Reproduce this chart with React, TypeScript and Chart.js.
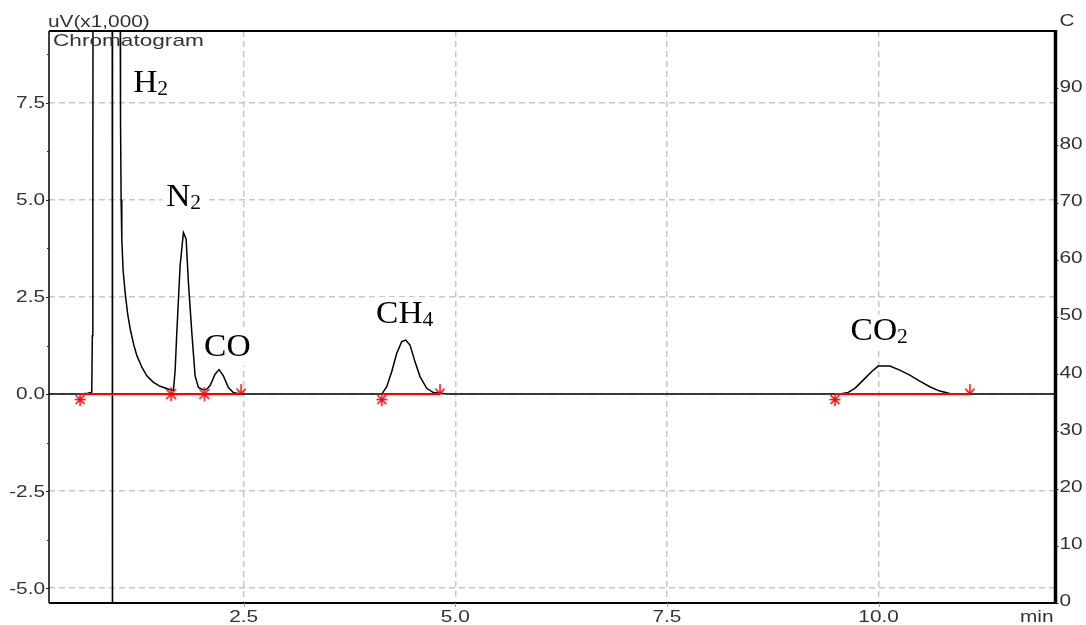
import React, { useEffect, useRef } from 'react';
import { Chart, registerables } from 'chart.js';

Chart.register(...registerables);

// ---- axis ranges & ticks ----
const xMin = 0.2;
const xMax = 12.09;
const yMin = -5.38;
const yMax = 9.35;
const y2Min = 0;
const y2Max = 100;

const xTicks = [2.5, 5.0, 7.5, 10.0];
const xTickLabels = ['2.5', '5.0', '7.5', '10.0'];
const yTicks = [7.5, 5.0, 2.5, 0.0, -2.5, -5.0];
const yTickLabels = ['7.5', '5.0', '2.5', '0.0', '-2.5', '-5.0'];
const yMinorTicks = [8.75, 6.25, 3.75, 1.25, -1.25, -3.75];
const y2Ticks = [0, 10, 20, 30, 40, 50, 60, 70, 80, 90];
const y2TickLabels = ['0', '10', '20', '30', '40', '50', '60', '70', '80', '90'];

// ---- chromatogram signal (min, uV x1000) ----
const signalTime = [
  0.2, 0.57, 0.66, 0.705, 0.712, 0.718, 0.725,
  0.945, 0.949, 0.952,
  1.035, 1.04, 1.045, 1.052, 1.06, 1.075, 1.099, 1.13, 1.16, 1.2, 1.238, 1.3, 1.356, 1.43, 1.513, 1.632, 1.67,
  1.69, 1.71, 1.749, 1.788, 1.82, 1.847, 1.887, 1.926, 1.965, 2.024,
  2.06, 2.103, 2.162, 2.209, 2.26, 2.319, 2.378, 2.457,
  4.131, 4.19, 4.249, 4.308, 4.367, 4.414, 4.465, 4.524, 4.583, 4.662, 4.74, 4.819, 4.9,
  9.543, 9.641, 9.72, 9.818, 9.917, 9.995, 10.133, 10.251, 10.369, 10.487, 10.605, 10.723, 10.841, 10.94, 11.0,
  12.09,
];
const signalValue = [
  0, 0, 0.02, 0.05, 1.5, 6, 20,
  20, -12, 20,
  20, 11, 7, 5.0, 4.0, 3.2, 2.62, 2.05, 1.67, 1.28, 0.99, 0.68, 0.47, 0.31, 0.2, 0.11, 0.1,
  0.6, 1.59, 3.31, 4.16, 3.99, 2.87, 1.59, 0.47, 0.17, 0.11,
  0.12, 0.22, 0.51, 0.63, 0.47, 0.17, 0.04, 0,
  0, 0.19, 0.58, 1.05, 1.35, 1.39, 1.26, 0.83, 0.45, 0.15, 0.04, 0.02, 0,
  0, 0.044, 0.147, 0.36, 0.576, 0.721, 0.721, 0.618, 0.489, 0.335, 0.19, 0.077, 0.018, 0.01, 0,
  0,
];

// ---- integration baselines ----
const markTime = [0.568, 1.643, 2.036, 2.469, 4.131, 4.819, 9.484, 11.078];
const markKind = ['start', 'mid', 'mid', 'end', 'start', 'end', 'start', 'end'];
const markGroup = [0, 0, 0, 0, 1, 1, 2, 2];

// ---- peak labels ----
const peakNames = ['H', 'N', 'CO', 'CH', 'CO'];
const peakSubs = ['2', '2', '', '4', '2'];
const peakLabelTime = [1.194, 1.584, 2.032, 4.064, 9.669];
const peakLabelValue = [7.78, 4.84, 0.99, 1.83, 1.39];

const SANS = '"Liberation Sans", Arial, sans-serif';
const SERIF = '"Liberation Serif", "Times New Roman", serif';
const SANS_SX = 1.3;
const SERIF_SX = 1.08;

function drawScaled(ctx: CanvasRenderingContext2D, text: string, x: number, y: number, align: CanvasTextAlign, sx: number) {
  ctx.save();
  ctx.translate(x, y);
  ctx.scale(sx, 1);
  ctx.textAlign = align;
  ctx.fillText(text, 0, 0);
  ctx.restore();
}

function makeMarker(kind: string): HTMLCanvasElement {
  const c = document.createElement('canvas');
  c.width = 18;
  c.height = 28;
  const g = c.getContext('2d')!;
  g.strokeStyle = '#ff0000';
  g.lineWidth = 1.5;
  const line = (a: number, b: number, cc: number, d: number) => {
    g.beginPath();
    g.moveTo(a, b);
    g.lineTo(cc, d);
    g.stroke();
  };
  // the data point sits at (9,14)
  if (kind === 'mid') {
    line(9, 7, 9, 21);
    line(2, 14, 16, 14);
    line(4, 9, 14, 19);
    line(14, 9, 4, 19);
  } else if (kind === 'start') {
    line(9, 13, 9, 26);
    line(4.5, 15, 13.5, 24);
    line(13.5, 15, 4.5, 24);
    line(3.5, 19.5, 14.5, 19.5);
  } else {
    line(9, 4, 9, 14);
    line(4.5, 8.5, 9, 14);
    line(13.5, 8.5, 9, 14);
  }
  return c;
}

const decorPlugin = {
  id: 'decor',
  beforeDatasetsDraw(chart: any) {
    const { ctx, scales } = chart;
    const x = scales.x;
    const y = scales.y;
    ctx.save();
    ctx.textBaseline = 'alphabetic';
    peakNames.forEach((name, i) => {
      const px = x.getPixelForValue(peakLabelTime[i]);
      const py = y.getPixelForValue(peakLabelValue[i]);
      ctx.font = `31px ${SERIF}`;
      const w1 = ctx.measureText(name).width * SERIF_SX;
      ctx.font = `20px ${SERIF}`;
      const w2 = peakSubs[i] ? ctx.measureText(peakSubs[i]).width * SERIF_SX : 0;
      ctx.fillStyle = '#ffffff';
      ctx.fillRect(px - 4, py - 26, w1 + w2 + 8, 36);
      ctx.fillStyle = '#000000';
      ctx.font = `31px ${SERIF}`;
      drawScaled(ctx, name, px, py, 'left', SERIF_SX);
      if (peakSubs[i]) {
        ctx.font = `20px ${SERIF}`;
        drawScaled(ctx, peakSubs[i], px + w1, py + 3, 'left', SERIF_SX);
      }
    });
    ctx.restore();
  },
  afterDatasetsDraw(chart: any) {
    const { ctx, chartArea, scales } = chart;
    const x = scales.x;
    const y = scales.y;
    const y2 = scales.y2;
    const { left, right, top, bottom } = chartArea;
    ctx.save();
    ctx.strokeStyle = '#000000';
    // frame
    ctx.lineWidth = 2;
    ctx.beginPath();
    ctx.moveTo(left, top);
    ctx.lineTo(right, top);
    ctx.stroke();
    ctx.beginPath();
    ctx.moveTo(left, bottom);
    ctx.lineTo(right, bottom);
    ctx.stroke();
    ctx.lineWidth = 1.5;
    ctx.beginPath();
    ctx.moveTo(left, top);
    ctx.lineTo(left, bottom);
    ctx.stroke();
    ctx.lineWidth = 3.5;
    ctx.beginPath();
    ctx.moveTo(right, top - 1);
    ctx.lineTo(right, bottom + 1);
    ctx.stroke();

    // tick marks
    ctx.lineWidth = 1;
    ctx.strokeStyle = '#222';
    yTicks.forEach((v) => {
      const py = Math.round(y.getPixelForValue(v)) + 0.5;
      ctx.beginPath();
      ctx.moveTo(left - 3, py);
      ctx.lineTo(left, py);
      ctx.stroke();
    });
    yMinorTicks.forEach((v) => {
      const py = Math.round(y.getPixelForValue(v)) + 0.5;
      ctx.beginPath();
      ctx.moveTo(left - 2, py);
      ctx.lineTo(left, py);
      ctx.stroke();
    });
    y2Ticks.forEach((v) => {
      const py = Math.round(y2.getPixelForValue(v)) + 0.5;
      ctx.beginPath();
      ctx.moveTo(right, py);
      ctx.lineTo(right + 3, py);
      ctx.stroke();
    });
    ctx.strokeStyle = '#999';
    xTicks.forEach((v) => {
      const px = Math.round(x.getPixelForValue(v)) + 0.5;
      ctx.beginPath();
      ctx.moveTo(px, bottom);
      ctx.lineTo(px, bottom + 4);
      ctx.stroke();
    });

    // tick labels
    ctx.fillStyle = '#333333';
    ctx.font = `16px ${SANS}`;
    ctx.textBaseline = 'middle';
    yTicks.forEach((v, i) => {
      drawScaled(ctx, yTickLabels[i], left - 4, y.getPixelForValue(v) + 1, 'right', SANS_SX);
    });
    y2Ticks.forEach((v, i) => {
      drawScaled(ctx, y2TickLabels[i], right + 4, y2.getPixelForValue(v) - 1, 'left', SANS_SX);
    });
    xTicks.forEach((v, i) => {
      drawScaled(ctx, xTickLabels[i], x.getPixelForValue(v), bottom + 15, 'center', SANS_SX);
    });
    drawScaled(ctx, 'min', right - 2, bottom + 15, 'right', SANS_SX);
    drawScaled(ctx, 'C', right + 4, top - 9, 'left', SANS_SX);
    ctx.textBaseline = 'alphabetic';
    drawScaled(ctx, 'uV(x1,000)', left - 1, top - 4, 'left', SANS_SX);
    ctx.font = `17px ${SANS}`;
    drawScaled(ctx, 'Chromatogram', left + 4, top + 15, 'left', 1.33);
    ctx.restore();
  },
};

export default function App() {
  const canvasRef = useRef<HTMLCanvasElement | null>(null);

  useEffect(() => {
    const canvas = canvasRef.current;
    if (!canvas) return;

    const markers: Record<string, HTMLCanvasElement> = {
      start: makeMarker('start'),
      mid: makeMarker('mid'),
      end: makeMarker('end'),
    };

    const signalData = signalTime.map((t, i) => ({ x: t, y: signalValue[i] }));
    const baseData: { x: number; y: number | null }[] = [];
    const baseStyles: any[] = [];
    markTime.forEach((t, i) => {
      if (i > 0 && markGroup[i] !== markGroup[i - 1]) {
        baseData.push({ x: (t + markTime[i - 1]) / 2, y: null });
        baseStyles.push(false);
      }
      baseData.push({ x: t, y: 0 });
      baseStyles.push(markers[markKind[i]]);
    });

    const chart = new Chart(canvas, {
      type: 'line',
      data: {
        datasets: [
          {
            label: 'baseline',
            data: baseData as any,
            borderColor: '#ff0000',
            backgroundColor: '#ff0000',
            borderWidth: 2,
            pointStyle: baseStyles as any,
            pointRadius: 8,
            spanGaps: false,
            clip: 0 as any,
          },
          {
            label: 'Chromatogram',
            data: signalData,
            borderColor: '#000000',
            borderWidth: 1.5,
            pointRadius: 0,
            tension: 0,
            clip: 0 as any,
          },
        ],
      },
      options: {
        animation: false,
        responsive: false,
        maintainAspectRatio: false,
        devicePixelRatio: 1,
        layout: { padding: { left: 0, right: 0, top: 31, bottom: 0 } },
        plugins: {
          legend: { display: false },
          tooltip: { enabled: false },
        },
        scales: {
          x: {
            type: 'linear',
            min: xMin,
            max: xMax,
            afterBuildTicks: (s: any) => {
              s.ticks = xTicks.map((v) => ({ value: v }));
            },
            afterFit: (s: any) => {
              s.height = 22;
            },
            ticks: { display: false },
            grid: { color: '#c8c8c8', lineWidth: 1.5, drawTicks: false },
            border: { display: false, dash: [6, 4] },
          },
          y: {
            type: 'linear',
            position: 'left',
            min: yMin,
            max: yMax,
            afterBuildTicks: (s: any) => {
              s.ticks = yTicks.map((v) => ({ value: v }));
            },
            afterFit: (s: any) => {
              s.width = 49;
            },
            ticks: { display: false },
            grid: { color: '#c8c8c8', lineWidth: 1.5, drawTicks: false },
            border: { display: false, dash: [6, 4] },
          },
          y2: {
            type: 'linear',
            position: 'right',
            min: y2Min,
            max: y2Max,
            afterBuildTicks: (s: any) => {
              s.ticks = y2Ticks.map((v) => ({ value: v }));
            },
            afterFit: (s: any) => {
              s.width = 30.5;
            },
            ticks: { display: false },
            grid: { display: false, drawTicks: false },
            border: { display: false },
          },
        },
      } as any,
      plugins: [decorPlugin],
    });

    return () => {
      chart.destroy();
    };
  }, []);

  return (
    <div style={{ position: 'fixed', left: 0, top: 0, width: 1086, height: 625, background: '#ffffff' }}>
      <canvas ref={canvasRef} width={1086} height={625} style={{ display: 'block' }} />
    </div>
  );
}
